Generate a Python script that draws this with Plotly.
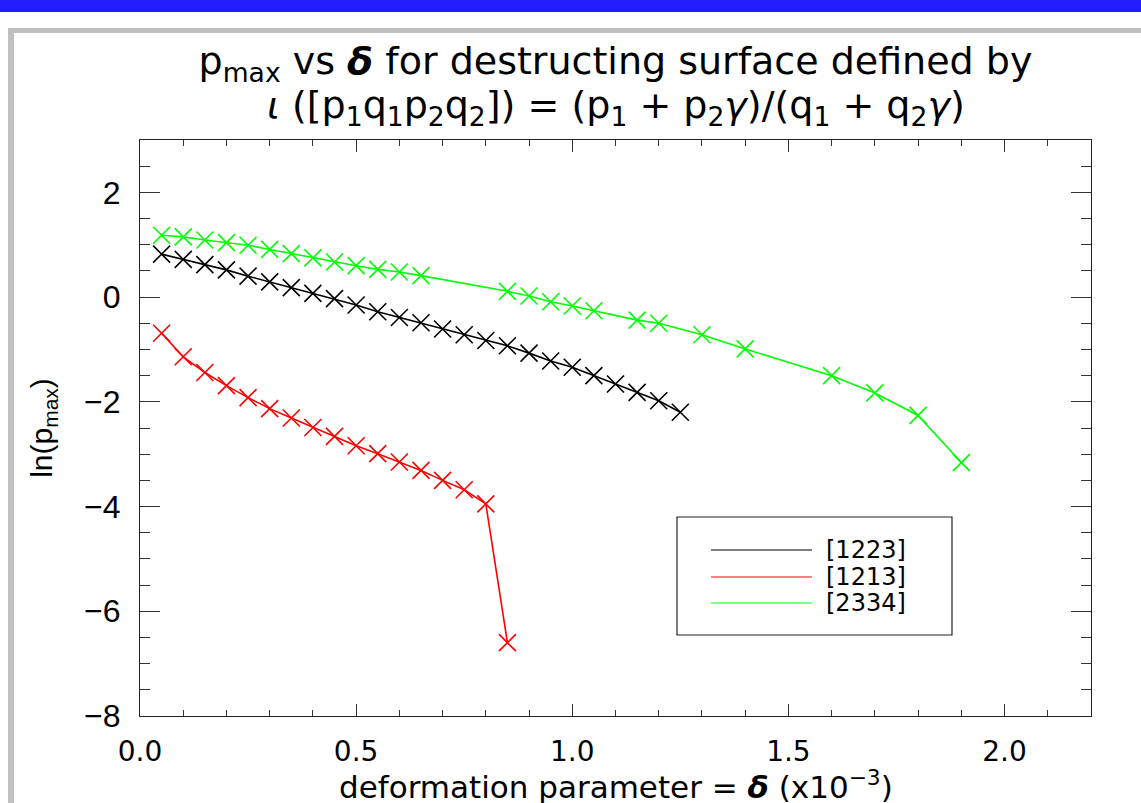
import plotly.graph_objects as go

# ---------------- data ----------------
series_names = ["[1223]", "[1213]", "[2334]"]
series_colors = ["#000000", "#FF0000", "#00FF00"]

delta_1223 = [0.05, 0.10, 0.15, 0.20, 0.25, 0.30, 0.35, 0.40, 0.45, 0.50, 0.55, 0.60, 0.65,
              0.70, 0.75, 0.80, 0.85, 0.90, 0.95, 1.00, 1.05, 1.10, 1.15, 1.20, 1.25]
lnp_1223 = [0.82, 0.72, 0.62, 0.52, 0.40, 0.29, 0.18, 0.07, -0.03, -0.15, -0.28, -0.39, -0.49,
            -0.61, -0.72, -0.83, -0.93, -1.07, -1.22, -1.34, -1.50, -1.66, -1.82, -1.98, -2.20]

delta_1213 = [0.05, 0.10, 0.15, 0.20, 0.25, 0.30, 0.35, 0.40, 0.45, 0.50, 0.55, 0.60, 0.65,
              0.70, 0.75, 0.80, 0.85]
lnp_1213 = [-0.69, -1.14, -1.44, -1.69, -1.92, -2.13, -2.31, -2.49, -2.66, -2.84, -2.99, -3.15,
            -3.31, -3.50, -3.68, -3.95, -6.60]

delta_2334 = [0.05, 0.10, 0.15, 0.20, 0.25, 0.30, 0.35, 0.40, 0.45, 0.50, 0.55, 0.60, 0.65,
              0.85, 0.90, 0.95, 1.00, 1.05, 1.15, 1.20, 1.30, 1.40, 1.60, 1.70, 1.80, 1.90]
lnp_2334 = [1.18, 1.15, 1.09, 1.04, 0.99, 0.91, 0.83, 0.75, 0.67, 0.60, 0.53, 0.48, 0.41,
            0.11, 0.02, -0.09, -0.17, -0.26, -0.44, -0.50, -0.72, -0.99, -1.50, -1.83, -2.26, -3.16]

x_ticks = [0.0, 0.5, 1.0, 1.5, 2.0]
x_ticklabels = ["0.0", "0.5", "1.0", "1.5", "2.0"]
y_ticks = [-8, -6, -4, -2, 0, 2]

title_line1 = "p<sub>max</sub> vs <b><i>δ</i></b> for destructing surface defined by"
title_line2 = ("<i>ι</i> ([p<sub>1</sub>q<sub>1</sub>p<sub>2</sub>q<sub>2</sub>]) = "
               "(p<sub>1</sub> + p<sub>2</sub><i>γ</i>)/(q<sub>1</sub> + q<sub>2</sub><i>γ</i>)")
x_title = "deformation parameter = <b><i>δ</i></b> (x10<sup>−3</sup>)"
y_title = "ln(p<sub>max</sub>)"

# ---------------- layout geometry (pixels) ----------------
W, H = 1141, 803
L, R, T, B = 140, 1091, 140, 716   # plot area edges in px


def px(xp):
    return (xp - L) / (R - L)


def py(yp):
    return (B - yp) / (B - T)


HERSHEY = "DejaVu Sans, Liberation Sans, sans-serif"
HELV = "Liberation Sans, Arial, sans-serif"

fig = go.Figure()
xs = [delta_1223, delta_1213, delta_2334]
ys = [lnp_1223, lnp_1213, lnp_2334]
for name, col, x, y in zip(series_names, series_colors, xs, ys):
    fig.add_trace(go.Scatter(
        x=x, y=y, name=name, mode="lines+markers",
        line=dict(color=col, width=1.6),
        marker=dict(symbol="x-thin", size=17, line=dict(color=col, width=1.6)),
        showlegend=False,
    ))

shapes = []
# slide decoration: blue bar, grey frame
shapes.append(dict(type="rect", xref="paper", yref="paper", x0=px(0), x1=px(W), y0=py(12), y1=py(0),
                   fillcolor="#2020FF", line=dict(width=0), layer="above"))
shapes.append(dict(type="rect", xref="paper", yref="paper", x0=px(8), x1=px(W), y0=py(33), y1=py(28),
                   fillcolor="#C0C0C0", line=dict(width=0), layer="above"))
shapes.append(dict(type="rect", xref="paper", yref="paper", x0=px(8), x1=px(14), y0=py(H), y1=py(28),
                   fillcolor="#C0C0C0", line=dict(width=0), layer="above"))
# legend box
shapes.append(dict(type="rect", xref="paper", yref="paper", x0=px(677), x1=px(952), y0=py(635), y1=py(517),
                   fillcolor="white", line=dict(color="#222222", width=1.2), layer="above"))
annotations = []
leg_y = [550, 577, 603]
for name, col, ly in zip(series_names, series_colors, leg_y):
    shapes.append(dict(type="line", xref="paper", yref="paper", x0=px(711), x1=px(812), y0=py(ly), y1=py(ly),
                       line=dict(color=col, width=1.2), layer="above"))
    annotations.append(dict(xref="paper", yref="paper", x=px(824), y=py(ly), xanchor="left", yanchor="middle",
                            text=name, showarrow=False, font=dict(family=HERSHEY, size=24, color="black")))

# second title line
annotations.append(dict(xref="paper", yref="paper", x=px(615.5), y=py(108), xanchor="center", yanchor="middle",
                        text=title_line2, showarrow=False, font=dict(family=HERSHEY, size=38, color="black")))
# x-axis title (placed explicitly so that it sits low, like the reference)
annotations.append(dict(xref="paper", yref="paper", x=0.5, y=py(785), xanchor="center", yanchor="middle",
                        text=x_title, showarrow=False, font=dict(family=HERSHEY, size=31, color="black")))

fig.update_layout(
    width=W, height=H,
    margin=dict(l=L, r=W - R, t=T, b=H - B, pad=0, autoexpand=False),
    paper_bgcolor="white", plot_bgcolor="white",
    title=dict(text=title_line1, x=615.5 / W, xanchor="center",
               y=1 - 61 / H, yanchor="middle", yref="container",
               font=dict(family=HERSHEY, size=38, color="black")),
    shapes=shapes, annotations=annotations,
    showlegend=False,
)

fig.update_xaxes(
    range=[0, 2.2], tickvals=x_ticks, ticktext=x_ticklabels, automargin=False,
    showgrid=False, zeroline=False,
    showline=True, linecolor="#222222", linewidth=1.2, mirror="ticks",
    ticks="inside", ticklen=12, tickwidth=1.2, tickcolor="#333333",
    minor=dict(dtick=0.1, ticks="inside", ticklen=6, tickwidth=1.2, tickcolor="#333333", showgrid=False),
    tickfont=dict(family=HERSHEY, size=28, color="black"),
    ticklabelstandoff=10,
)
fig.update_yaxes(
    range=[-8, 3], tickvals=y_ticks, automargin=False,
    showgrid=False, zeroline=False,
    showline=True, linecolor="#222222", linewidth=1.2, mirror="ticks",
    ticks="inside", ticklen=20, tickwidth=1.2, tickcolor="#333333",
    minor=dict(dtick=0.5, ticks="inside", ticklen=10, tickwidth=1.2, tickcolor="#333333", showgrid=False),
    tickfont=dict(family=HELV, size=32, color="black"),
    ticklabelstandoff=12,
    title=dict(text=y_title, font=dict(family=HELV, size=30, color="black"), standoff=22),
)

fig.write_html("out.html")
